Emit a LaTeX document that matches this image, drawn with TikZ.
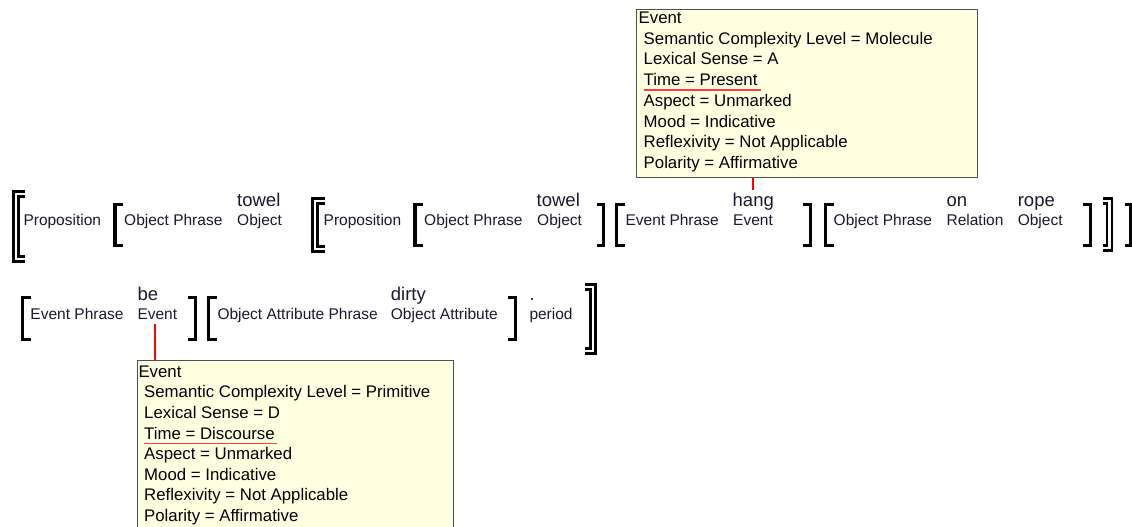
\documentclass[tikz,border=0pt]{standalone}
\usepackage{fontspec}
\setmainfont{Liberation Sans}
\definecolor{tipfill}{HTML}{FFFFE1}
\definecolor{tipline}{HTML}{505050}
\definecolor{labelink}{HTML}{1A1A30}
\definecolor{ulred}{HTML}{FF3B3B}

% brackets: left edge / tick end (or tick start / right edge), top, bottom
\newcommand\openbrk[4]{\draw[brk] (#2,#3+1.6) -- (#1+1.6,#3+1.6) -- (#1+1.6,#4-1.6) -- (#2,#4-1.6);}
\newcommand\closebrk[4]{\draw[brk] (#1,#3+1.6) -- (#2-1.6,#3+1.6) -- (#2-1.6,#4-1.6) -- (#1,#4-1.6);}
\newcommand\openbrkk[4]{\draw[dbrk] (#2,#3+3.8) -- (#1+3.8,#3+3.8) -- (#1+3.8,#4-3.8) -- (#2,#4-3.8);}
\newcommand\closebrkk[4]{\draw[dbrk] (#1,#3+3.8) -- (#2-3.8,#3+3.8) -- (#2-3.8,#4-3.8) -- (#1,#4-3.8);}

\begin{document}
\begin{tikzpicture}[x=1pt,y=-1pt,
  lbl/.style={font=\fontsize{15.5}{18}\selectfont, text=labelink, anchor=base west, inner sep=0pt},
  word/.style={font=\fontsize{18.5}{21}\selectfont, text=labelink, anchor=base west, inner sep=0pt},
  attr/.style={font=\fontsize{16.8}{20}\selectfont, anchor=base west, inner sep=0pt},
  brk/.style={line width=3.2pt, line cap=butt},
  dbrk/.style={line width=2.6pt, double=white, double distance=2.4pt, line cap=butt},
  infobox/.style={draw=tipline, fill=tipfill, line width=1.3pt, anchor=north west, inner sep=0pt},
  link/.style={draw=red, line width=2pt},
  uline/.style={draw=ulred, line width=1.5pt}]

\clip (0,0) rectangle (1132,527);
\fill[white] (0,0) rectangle (1132,527);

% ---------- first line of the sentence ----------
\openbrkk{12.3}{25}{190}{263}
\node[lbl] (prop1) at (23.3,225) {Proposition};
\openbrk{113.3}{123.3}{203}{247}
\node[lbl] (op1) at (124,225) {Object Phrase};
\node[word] (towel1) at (237,206.5) {towel};
\node[lbl] (obj1) at (237,225) {Object};

\openbrkk{311}{325}{197}{253}
\node[lbl] (prop2) at (323.5,225) {Proposition};
\openbrk{413.3}{423.3}{203}{247}
\node[lbl] (op2) at (424,225) {Object Phrase};
\node[word] (towel2) at (536.5,206.5) {towel};
\node[lbl] (obj2) at (537,225) {Object};
\closebrk{597}{605.3}{203}{247}

\openbrk{615}{625}{203}{247}
\node[lbl] (ep1) at (625.4,225) {Event Phrase};
\node[word] (hang) at (732.5,206.5) {hang};
\node[lbl] (ev1) at (733,225) {Event};
\closebrk{803.4}{811.9}{203}{247}

\openbrk{823.5}{833.5}{203}{247}
\node[lbl] (op3) at (833.5,225) {Object Phrase};
\node[word] (on) at (946.4,206.5) {on};
\node[lbl] (rel) at (946.4,225) {Relation};
\node[word] (rope) at (1017.6,206.5) {rope};
\node[lbl] (obj3) at (1017.6,225) {Object};
\closebrk{1083}{1092}{203}{247}
\closebrkk{1103}{1113.3}{197}{252}
\closebrk{1124.5}{1131.7}{203}{247}

% ---------- second line of the sentence ----------
\openbrk{20.7}{30.7}{296}{341}
\node[lbl] (ep2) at (30.3,319) {Event Phrase};
\node[word] (be) at (137.3,300) {be};
\node[lbl] (ev2) at (137.3,319) {Event};
\closebrk{187.7}{196.7}{296}{341}

\openbrk{206.7}{216.7}{296}{341}
\node[lbl] (oap) at (217.3,319) {Object Attribute Phrase};
\node[word] (dirty) at (390.7,300) {dirty};
\node[lbl] (oa) at (390.7,319) {Object Attribute};
\closebrk{508.3}{516.7}{296}{341}
\node[word] (dot) at (529.3,300) {.};
\node[lbl] (period) at (529.3,319) {period};
\closebrkk{585}{596.7}{283}{355}

% ---------- feature box of "hang" ----------
\node[infobox, minimum width=341pt, minimum height=168pt] (box1) at (635.7,8.7) {};
\node[attr] (h0) at (638.5,23.5) {Event};
\node[attr] (h1) at (643.5,44.2) {Semantic Complexity Level = Molecule};
\node[attr] (h2) at (643.5,64.9) {Lexical Sense = A};
\node[attr] (h3) at (643.5,85.6) {Time = Present};
\node[attr] (h4) at (643.5,106.3) {Aspect = Unmarked};
\node[attr] (h5) at (643.5,127) {Mood = Indicative};
\node[attr] (h6) at (643.5,147.7) {Reflexivity = Not Applicable};
\node[attr] (h7) at (643.5,168.4) {Polarity = Affirmative};
\draw[uline] ([yshift=-4.2pt]h3.base west) -- ([xshift=3pt,yshift=-4.2pt]h3.base east);
\draw[link] ([yshift=3pt]hang.north) -- (hang.north |- box1.south);

% ---------- feature box of "be" ----------
\node[infobox, minimum width=316pt, minimum height=185pt] (box2) at (136.7,360) {};
\node[attr] (b0) at (138.3,377.3) {Event};
\node[attr] (b1) at (144,397.9) {Semantic Complexity Level = Primitive};
\node[attr] (b2) at (144,418.5) {Lexical Sense = D};
\node[attr] (b3) at (144,439.1) {Time = Discourse};
\node[attr] (b4) at (144,459.7) {Aspect = Unmarked};
\node[attr] (b5) at (144,480.3) {Mood = Indicative};
\node[attr] (b6) at (144,500.9) {Reflexivity = Not Applicable};
\node[attr] (b7) at (144,521.5) {Polarity = Affirmative};
\draw[uline] ([yshift=-4.2pt]b3.base west) -- ([xshift=2pt,yshift=-4.2pt]b3.base east);
\draw[link] ([xshift=-2.5pt,yshift=-5pt]ev2.south) -- ([xshift=-2.5pt]ev2.south |- box2.north);
\end{tikzpicture}
\end{document}
